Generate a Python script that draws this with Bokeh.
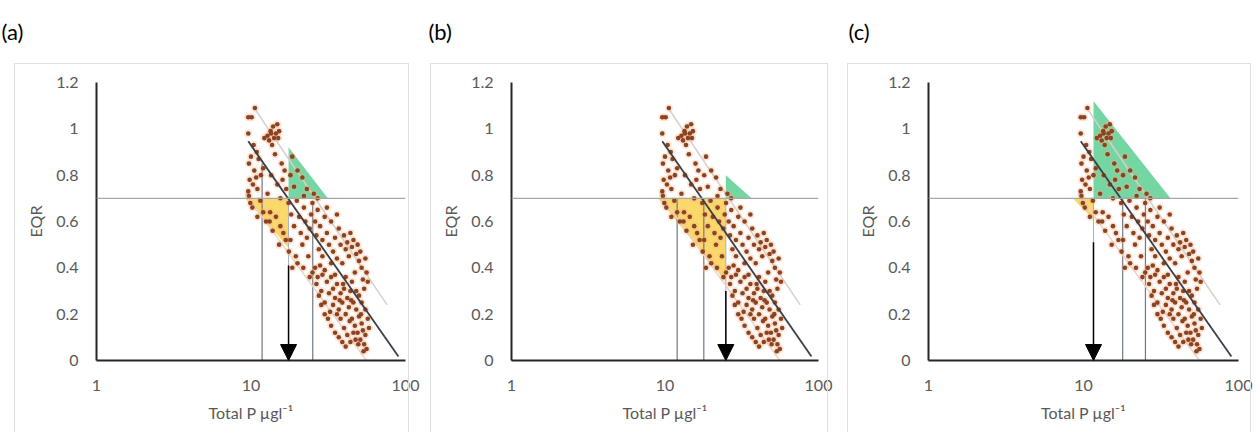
from bokeh.plotting import figure
from bokeh.layouts import row
from bokeh.models import (Range1d, FixedTicker, CustomJSTickFormatter, Arrow, NormalHead,
                          ColumnDataSource, Span, InlineStyleSheet, LinearAxis)
from bokeh.embed import file_html
from bokeh.resources import INLINE

# ---------------- data ----------------
panel_labels = ["(a)", "(b)", "(c)"]
x_ticks = [1, 10, 100]
y_ticks = [0, 0.2, 0.4, 0.6, 0.8, 1.0, 1.2]
x_title = "Total P µgl⁻¹"
y_title = "EQR"
eqr_boundary = 0.7

# observed sites (Total P, EQR) - same in all panels
scatter_pts = [
    # high EQR, low P column
    (9.6, 1.05), (10.1, 1.05), (10.6, 1.09), (9.6, 0.98), (10.4, 0.93), (10.0, 0.88),
    (10.9, 0.90), (9.7, 0.85), (10.5, 0.82), (9.8, 0.78), (10.3, 0.76), (9.6, 0.73),
    (10.8, 0.79), (9.9, 0.68), (10.2, 0.66), (9.7, 0.71), (11.2, 0.87), (11.0, 0.74), (11.6, 0.80),
    # blob near 1.0
    (12.8, 0.97), (13.4, 0.99), (13.9, 1.01), (14.5, 0.98), (15.2, 0.99), (13.1, 0.95),
    (14.1, 0.96), (15.0, 0.96), (13.7, 0.93), (12.2, 0.96), (14.8, 1.02), (13.5, 0.98),
    # 12-17 ugl
    (14.3, 0.89), (15.8, 0.85), (13.5, 0.80), (16.5, 0.82), (12.0, 0.83), (14.8, 0.76),
    (16.9, 0.74), (12.8, 0.72), (11.5, 0.69), (13.3, 0.64), (15.5, 0.70), (16.0, 0.78), (12.5, 0.60),
    # 17-27 ugl, high
    (18.5, 0.88), (20.0, 0.82), (21.5, 0.79), (19.0, 0.75), (23.0, 0.74), (25.5, 0.72),
    (22.0, 0.71), (18.0, 0.80), (27.0, 0.70),
    # 11-17 ugl, moderate
    (12.0, 0.64), (13.2, 0.60), (14.5, 0.62), (15.5, 0.58), (16.2, 0.55), (13.8, 0.56),
    (16.8, 0.52), (15.2, 0.50), (11.0, 0.62),
    # 17-27 ugl
    (17.5, 0.68), (18.2, 0.63), (19.0, 0.58), (18.0, 0.52), (17.6, 0.47), (19.5, 0.45),
    (20.5, 0.62), (21.0, 0.55), (21.5, 0.50), (22.0, 0.66), (22.5, 0.60), (23.0, 0.53),
    (24.0, 0.57), (24.5, 0.63), (20.0, 0.42), (18.5, 0.40), (23.5, 0.45), (25.0, 0.68),
    (26.0, 0.60), (26.5, 0.54), (27.0, 0.65), (19.8, 0.69), (21.8, 0.40),
    # 27-58 ugl upper band
    (27.5, 0.48), (28, 0.58), (29, 0.52), (30, 0.62), (31, 0.55), (32, 0.50), (33, 0.60),
    (34, 0.47), (35, 0.53), (36, 0.44), (37, 0.57), (38, 0.50), (39, 0.42), (40, 0.54),
    (41, 0.48), (42, 0.51), (43, 0.45), (44, 0.55), (45, 0.49), (46, 0.52), (48, 0.46),
    (50, 0.43), (47, 0.38), (52, 0.40), (49, 0.50), (51, 0.47), (53, 0.35), (55, 0.44),
    (54, 0.31), (56, 0.38), (57, 0.34), (36, 0.63), (31, 0.66),
    # dense lower cluster
    (25, 0.38), (26, 0.40), (27, 0.36), (28, 0.41), (29, 0.37), (30, 0.39),
    (26.5, 0.33), (28.5, 0.30), (31, 0.34), (32, 0.29), (30, 0.25), (33, 0.36),
    (34, 0.31), (35, 0.27), (36, 0.33), (37, 0.22), (38, 0.29), (39, 0.25),
    (40, 0.31), (41, 0.20), (42, 0.27), (43, 0.23), (44, 0.30), (45, 0.18),
    (46, 0.25), (47, 0.15), (48, 0.22), (49, 0.12), (50, 0.19), (51, 0.09),
    (52, 0.16), (53, 0.13), (54, 0.07), (55, 0.11), (56, 0.05),
    (38, 0.18), (40, 0.14), (42, 0.11), (44, 0.08), (46, 0.12),
    (36, 0.20), (34, 0.24), (41, 0.36), (45, 0.34), (48, 0.30),
    (50, 0.28), (52, 0.25), (55, 0.22), (57, 0.18), (58, 0.14),
    (35, 0.37), (33, 0.42), (29, 0.45), (24, 0.36),
    (27.5, 0.28), (32.5, 0.21), (37.5, 0.26), (43.5, 0.17), (47.5, 0.09), (53.5, 0.04),
    (39.5, 0.33), (44.5, 0.26), (49.5, 0.07), (51.5, 0.20),
    (31.5, 0.18), (33, 0.15), (35, 0.12), (37, 0.10), (39, 0.08), (41, 0.06),
    (30, 0.20), (28.5, 0.24),
]
site_tp = [p[0] for p in scatter_pts]
site_eqr = [p[1] for p in scatter_pts]

# regression line and prediction bounds
reg_tp, reg_eqr = [9.6, 90.0], [0.946, 0.017]
upper_tp, upper_eqr = [10.5, 76.0], [1.09, 0.24]
lower_tp, lower_eqr = [9.2, 56.0], [0.72, 0.0]

# per-panel values
target_tp = [17.5, 24.9, 11.6]
arrow_top = [0.41, 0.30, 0.51]
vline_tp = [[11.8, 25.1], [12.0, 17.9], [17.9, 25.1]]
vline_top = [[0.85, 0.69], [0.70, 0.70], [0.70, 0.70]]
green_tp = [[17.5, 17.5, 31.4], [24.9, 24.9, 36.7], [11.6, 11.6, 36.4]]
green_eqr = [[0.70, 0.92, 0.70], [0.70, 0.80, 0.70], [0.70, 1.12, 0.70]]
yellow_tp = [[9.15, 17.5, 17.5], [9.0, 24.9, 24.9], [8.5, 11.6, 11.6]]
yellow_eqr = [[0.70, 0.70, 0.486], [0.70, 0.70, 0.34], [0.70, 0.70, 0.61]]

# ---------------- layout (pixels) ----------------
W = [422, 416, 422]
H = 432
BL = [96, 89, 90]
FW = [309, 307, 310]
BT = [81, 82, 82]
FH = [279, 280, 281]
title_dx = [-95, -83, -80]
chart_box = [(14, 63, 395), (8, 63, 398), (9, 63, 404)]  # left, top, width (px, rel. figure)

FONT = "Lato"
TXT = "#595959"

figs = []
for i in range(3):
    p = figure(width=W[i], height=H, x_axis_type="log",
               x_range=Range1d(1, 100), y_range=Range1d(0, 1.2),
               output_backend="svg", toolbar_location=None,
               min_border_left=BL[i], min_border_right=W[i] - BL[i] - FW[i],
               min_border_top=BT[i], min_border_bottom=H - BT[i] - FH[i])
    p.outline_line_color = None
    p.background_fill_color = "white"
    p.border_fill_color = "white"
    p.xgrid.visible = False
    p.ygrid.visible = False
    xa = p.below[0]
    ya = p.left[0]

    # invisible spacer between frame and the panel label
    spacer = LinearAxis(ticker=FixedTicker(ticks=[10]),
                        formatter=CustomJSTickFormatter(code="return '';"),
                        axis_line_color=None,
                        major_tick_line_color=None, minor_tick_line_color=None,
                        major_tick_in=0, major_tick_out=33, minor_tick_in=0, minor_tick_out=0,
                        major_label_standoff=0, major_label_text_font_size="1px")
    p.add_layout(spacer, "above")

    # panel label as title
    p.title.text = panel_labels[i]
    p.title.align = "left"
    p.title.offset = title_dx[i]
    p.title.standoff = 10
    p.title.text_font = FONT
    p.title.text_font_size = "22px"
    p.title.text_font_style = "normal"
    p.title.text_color = "black"

    # chart border
    bx, by, bw = chart_box[i]
    p.stylesheets = [InlineStyleSheet(css=(
        ":host::after{content:'';position:absolute;left:%dpx;top:%dpx;width:%dpx;height:400px;"
        "border:1px solid #e0e0e0;pointer-events:none;z-index:10;}" % (bx, by, bw)))]

    # axes
    for ax in (xa, ya):
        ax.axis_line_color = "#262626"
        ax.axis_line_width = 2
        ax.major_tick_line_color = None
        ax.minor_tick_line_color = None
        ax.major_tick_in = 0
        ax.major_tick_out = 0
        ax.minor_tick_in = 0
        ax.minor_tick_out = 0
        ax.major_label_text_font = FONT
        ax.major_label_text_font_size = "16px"
        ax.major_label_text_color = TXT
        ax.axis_label_text_font = FONT
        ax.axis_label_text_font_size = "16px"
        ax.axis_label_text_font_style = "normal"
        ax.axis_label_text_color = TXT
    xa.ticker = FixedTicker(ticks=x_ticks)
    xa.formatter = CustomJSTickFormatter(code="return tick.toFixed(0);")
    xa.major_label_standoff = 19
    xa.axis_label = x_title
    xa.axis_label_standoff = 9
    ya.ticker = FixedTicker(ticks=y_ticks)
    ya.formatter = CustomJSTickFormatter(code="return (Math.round(tick*10)/10).toString();")
    ya.major_label_standoff = 18
    ya.axis_label = y_title
    ya.axis_label_standoff = 8

    # shaded triangles
    p.patch(green_tp[i], green_eqr[i], fill_color="#5ccf92", fill_alpha=0.85, line_color=None)
    p.patch(yellow_tp[i], yellow_eqr[i], fill_color="#f9d150", fill_alpha=0.85, line_color=None)

    # EQR boundary
    p.add_layout(Span(location=eqr_boundary, dimension="width", line_color="#a6a6a6", line_width=1.2))

    # vertical lines
    for vx, vt in zip(vline_tp[i], vline_top[i]):
        p.line([vx, vx], [0, vt], line_color="#6f7888", line_width=1.2)
    p.line([target_tp[i], target_tp[i]], [0, eqr_boundary], line_color="#a9b0bc", line_width=1.0)

    # prediction bounds
    p.line(upper_tp, upper_eqr, line_color="#d6d0cd", line_width=1.5)
    p.line(lower_tp, lower_eqr, line_color="#ecd6cb", line_width=1.5)

    # sites
    src = ColumnDataSource(dict(x=site_tp, y=site_eqr))
    p.scatter("x", "y", source=src, size=8, fill_color="#f4b183", fill_alpha=0.3, line_color=None)
    p.scatter("x", "y", source=src, size=4.6, fill_color="#8a4421", line_color=None)

    # regression line
    p.line(reg_tp, reg_eqr, line_color="#3a3f47", line_width=1.8)

    # arrow
    p.add_layout(Arrow(end=NormalHead(size=16, fill_color="black", line_color="black"),
                       x_start=target_tp[i], y_start=arrow_top[i],
                       x_end=target_tp[i], y_end=0,
                       line_color="black", line_width=1.5))
    figs.append(p)

layout = row(*figs, spacing=0)
open("out.html", "w").write(file_html(layout, INLINE))
